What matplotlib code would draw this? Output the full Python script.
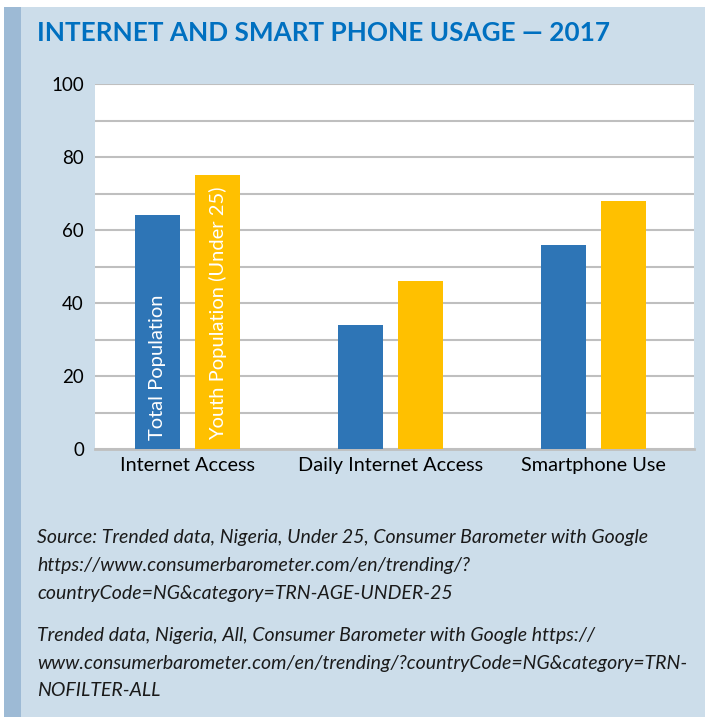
import matplotlib
matplotlib.use("Agg")
import matplotlib.pyplot as plt
from matplotlib.patches import Rectangle
import numpy as np

categories = ["Internet Access", "Daily Internet Access", "Smartphone Use"]
total_population = [64, 34, 56]
youth_population = [75, 46, 68]
series_labels = ["Total Population", "Youth Population (Under 25)"]
y_ticks = [0, 20, 40, 60, 80, 100]
title = "INTERNET AND SMART PHONE USAGE \u2014 2017"
source_lines = [
    "Source: Trended data, Nigeria, Under 25, Consumer Barometer with Google",
    "https://www.consumerbarometer.com/en/trending/?",
    "countryCode=NG&category=TRN-AGE-UNDER-25",
    "",
    "Trended data, Nigeria, All, Consumer Barometer with Google https://",
    "www.consumerbarometer.com/en/trending/?countryCode=NG&category=TRN-",
    "NOFILTER-ALL",
]

W, H = 705, 717
plt.rcParams['font.family'] = ['Lato', 'DejaVu Sans']
fig = plt.figure(figsize=(W / 100, H / 100), dpi=100)
fig.patch.set_facecolor("white")

def fx(px):
    return px / W

def fy(py):
    return 1 - py / H

# background panels
fig.add_artist(Rectangle((fx(4), 0), 1 - fx(4), fy(7), transform=fig.transFigure,
                         facecolor="#CCDDEA", edgecolor="none", zorder=0))
fig.add_artist(Rectangle((fx(4), 0), fx(21) - fx(4), fy(7), transform=fig.transFigure,
                         facecolor="#9DBAD5", edgecolor="none", zorder=0))

fig.text(fx(37), fy(33), title, color="#0070C0", fontsize=18.8, fontweight="bold",
         va="center", ha="left")

left, right, top, bottom = 95, 694, 84, 449
ax = fig.add_axes([fx(left), fy(bottom), fx(right) - fx(left), (bottom - top) / H])
ax.set_facecolor("white")

x = np.arange(len(categories))
w = 0.222
off = 0.148
ax.bar(x - off, total_population, w, color="#2E75B6", zorder=3)
ax.bar(x + off, youth_population, w, color="#FFC000", zorder=3)

ax.text(x[0] - off, 2.5, series_labels[0], rotation=90, color="white", ha="center",
        va="bottom", fontsize=14.5, zorder=4)
ax.text(x[0] + off, 2.5, series_labels[1], rotation=90, color="white", ha="center",
        va="bottom", fontsize=14.5, zorder=4)

ax.set_ylim(0, 100)
ax.set_xlim(-0.456, 2.495)
ax.set_yticks(y_ticks)
ax.set_yticks(np.arange(0, 101, 10), minor=True)
ax.set_yticklabels([str(t) for t in y_ticks], fontsize=13.5)
ax.set_xticks(x)
ax.set_xticklabels(categories, fontsize=14.3)
ax.tick_params(axis="both", length=0, pad=8)
ax.tick_params(axis="y", which="minor", length=0)
ax.tick_params(axis="x", pad=6)
ax.grid(axis="y", which="both", color="#BFBFBF", linewidth=1.5, zorder=1)
for s in ["left", "right", "top"]:
    ax.spines[s].set_visible(False)
ax.spines["bottom"].set_color("#BFBFBF")
ax.spines["bottom"].set_linewidth(2)

ys = [537, 566, 593, 0, 636, 664, 691]
for line, yy in zip(source_lines, ys):
    if line:
        fig.text(fx(37), fy(yy), line, fontsize=14, style="italic", va="center",
                 ha="left", color="#1a1a1a")

fig.savefig("out.png", dpi=100, facecolor=fig.get_facecolor())
